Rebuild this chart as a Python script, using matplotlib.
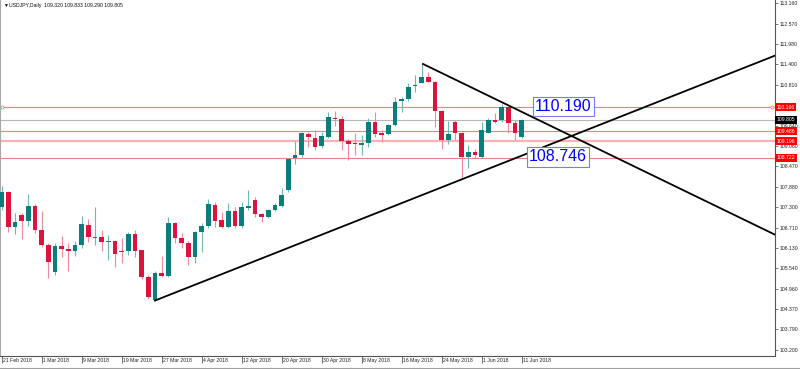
import numpy as np
import pandas as pd
import matplotlib
matplotlib.use("Agg")
import matplotlib.pyplot as plt

plt.rcParams['font.family'] = ['Liberation Sans', 'DejaVu Sans']

# USDJPY daily bars
dates = pd.bdate_range("2018-02-21", "2018-06-11")
opens = [107.31, 107.74, 106.74, 107.07, 106.91, 107.33, 106.64, 106.21, 105.45, 106.18,
         106.10, 106.05, 106.21, 106.79, 106.42, 106.44, 106.29, 106.33, 106.05, 106.05,
         106.53, 106.07, 105.30, 104.64, 105.40, 105.32, 106.84, 106.41, 106.26, 105.88,
         106.59, 106.76, 107.36, 106.93, 106.74, 107.19, 106.76, 107.29, 107.51, 107.09,
         107.01, 107.22, 107.34, 107.79, 108.70, 108.80, 109.40, 109.28, 109.06, 109.32,
         109.87, 109.83, 109.21, 109.13, 109.09, 109.15, 109.75, 109.42, 109.40, 109.66,
         110.36, 110.40, 110.77, 110.87, 111.05, 110.90, 110.07, 109.23, 109.75, 109.42,
         108.74, 108.87, 108.75, 109.44, 109.80, 109.80, 110.17, 109.71, 109.320]
highs = [107.91, 107.76, 107.12, 107.14, 107.67, 107.39, 107.20, 106.28, 106.27, 106.47,
         106.26, 106.33, 107.05, 106.95, 107.31, 106.64, 106.50, 106.36, 106.41, 106.59,
         106.64, 106.07, 105.35, 105.48, 105.90, 107.01, 106.86, 106.55, 106.34, 106.62,
         106.85, 107.53, 107.46, 107.17, 107.41, 107.30, 107.46, 107.79, 107.60, 107.12,
         107.24, 107.41, 107.84, 108.70, 109.20, 109.47, 109.47, 109.51, 109.47, 110.04,
         110.06, 109.93, 109.25, 109.42, 109.37, 109.85, 110.04, 109.51, 109.69, 110.47,
         110.47, 110.87, 111.09, 111.41, 111.19, 110.92, 110.09, 109.77, 109.80, 109.47,
         109.08, 108.96, 109.75, 109.85, 109.99, 110.26, 110.18, 109.80, 109.833]
lows = [107.22, 106.59, 106.52, 106.38, 106.76, 106.57, 106.16, 105.26, 105.35, 105.88,
        105.47, 105.90, 106.12, 106.31, 106.21, 106.05, 105.78, 105.59, 105.69, 105.93,
        105.88, 105.24, 104.66, 104.62, 105.30, 105.30, 106.26, 106.12, 105.64, 105.69,
        106.02, 106.70, 106.74, 106.70, 106.70, 106.70, 106.70, 107.22, 107.03, 106.88,
        106.98, 107.19, 107.31, 107.74, 108.53, 108.75, 109.03, 108.94, 108.99, 109.28,
        109.63, 108.94, 108.65, 108.80, 108.80, 109.03, 109.32, 109.18, 109.37, 109.63,
        110.04, 110.36, 110.61, 110.86, 110.88, 109.59, 108.96, 109.10, 109.23, 108.13,
        108.42, 108.71, 108.70, 109.42, 109.71, 109.75, 109.42, 109.23, 109.290]
closes = [107.74, 106.74, 106.87, 106.91, 107.33, 106.64, 106.21, 105.73, 106.19, 106.10,
          106.05, 106.21, 106.81, 106.44, 106.45, 106.30, 106.33, 105.96, 106.02, 106.53,
          106.05, 105.29, 104.73, 105.40, 105.32, 106.84, 106.41, 106.26, 105.88, 106.59,
          106.76, 107.38, 106.91, 106.74, 107.19, 106.76, 107.30, 107.33, 107.10, 107.01,
          107.22, 107.36, 107.65, 108.67, 108.80, 109.42, 109.31, 109.04, 109.34, 109.88,
          109.83, 109.21, 109.11, 109.10, 109.13, 109.75, 109.40, 109.38, 109.66, 110.33,
          110.40, 110.76, 110.79, 111.05, 110.90, 110.07, 109.23, 109.39, 109.42, 108.74,
          108.89, 108.81, 109.51, 109.80, 109.75, 110.17, 109.71, 109.42, 109.805]

level_lines = [110.166, 109.486, 109.196, 108.722]
bid_price = 109.805
y_ticks = [113.160, 112.570, 111.980, 111.400, 110.810, 110.220, 109.640, 109.060,
           108.470, 107.880, 107.300, 106.710, 106.130, 105.540, 104.960, 104.370,
           103.790, 103.200]
# trend lines as (bar, price) anchor pairs
support_bars, support_prices = [23, 116], [104.62, 111.65]
resist_bars, resist_prices = [63.2, 116], [111.41, 106.51]
label_prices = [110.190, 108.746]

UP, DOWN = "#0a7e7a", "#dc143c"
UP_W, DOWN_W = "#6fb8b4", "#ef8a9c"

fig = plt.figure(figsize=(8, 3.69), dpi=100)
ax = fig.add_axes([0, 13 / 369, 775 / 800, 356 / 369])

x = np.arange(len(dates))
o, h, l, c = map(np.array, (opens, highs, lows, closes))
up = c >= o
body_lo = np.minimum(o, c)
body_h = np.maximum(np.abs(c - o), 0.03)

# horizontal levels
for v in level_lines:
    if v == 109.196:
        ax.axhline(v, color="#f7b3b3", lw=1.6, zorder=1)
    else:
        ax.axhline(v, color="#f07f7f", lw=0.8, zorder=1)
ax.axhline(bid_price, color="#b8b8b8", lw=0.8, zorder=1)
ax.plot([0, 115.5], [level_lines[0]] * 2, ls="none", marker="o", ms=2.2,
        mfc="white", mec="#f07f7f", mew=0.6, zorder=1)

# candles
ax.vlines(x[up], l[up], h[up], color=UP_W, lw=0.8, zorder=2)
ax.vlines(x[~up], l[~up], h[~up], color=DOWN_W, lw=0.8, zorder=2)
ax.bar(x[up], body_h[up], bottom=body_lo[up], width=0.7, color=UP, lw=0, zorder=3)
ax.bar(x[~up], body_h[~up], bottom=body_lo[~up], width=0.7, color=DOWN, lw=0, zorder=3)

# trend lines
ax.plot(support_bars, support_prices, color="black", lw=1.3, zorder=4)
ax.plot(resist_bars, resist_prices, color="black", lw=1.3, zorder=4)

# text labels on the chart
for xb, v in zip([80.0, 79.1], label_prices):
    ax.text(xb, v, f"{v:.3f}", fontsize=11.5, color="#0000ff", ha="left", va="center",
            bbox=dict(boxstyle="square,pad=0.15", fc="white", ec="#7a7aff", lw=0.8),
            zorder=6)

ax.set_xlim(-0.255, 116.0)
ax.set_ylim(103.028, 113.246)

# price scale on the right; labels hidden under a price box are left blank
boxed = level_lines + [bid_price]
ax.yaxis.tick_right()
ax.set_yticks(y_ticks)
ax.set_yticklabels(["" if min(abs(t - b) for b in boxed) < 0.08 else f"{t:.3f}"
                    for t in y_ticks])
ax.tick_params(axis="y", length=2.5, width=0.6, pad=1.2, labelsize=3.7,
               color="#666666", labelcolor="#222222")

for v in level_lines:
    ax.annotate(f"{v:.3f}", xy=(1, v), xycoords=ax.get_yaxis_transform(),
                xytext=(1.0, 0), textcoords="offset points", ha="left", va="center",
                fontsize=3.7, color="white", annotation_clip=False, zorder=10,
                bbox=dict(boxstyle="square,pad=0.3", fc="#ff0000", ec="none"))
ax.annotate(f"{bid_price:.3f}", xy=(1, bid_price), xycoords=ax.get_yaxis_transform(),
            xytext=(1.0, 0), textcoords="offset points", ha="left", va="center",
            fontsize=3.7, color="white", annotation_clip=False, zorder=10,
            bbox=dict(boxstyle="square,pad=0.3", fc="black", ec="none"))

# time scale
tick_idx = x[::6]
ax.set_xticks(tick_idx)
ax.tick_params(axis="x", length=5, width=0.6, color="#555555", labelbottom=False)
for i in tick_idx:
    d = dates[i]
    ax.annotate(f"{d.day} {d:%b %Y}", xy=(i, 0), xycoords=ax.get_xaxis_transform(),
                xytext=(1.0, -1.5), textcoords="offset points", ha="left", va="top",
                fontsize=3.7, color="#222222", annotation_clip=False)

ax.spines["top"].set_visible(False)
ax.spines["left"].set_color("#a8a8a8")
ax.spines["right"].set_color("#555555")
ax.spines["bottom"].set_color("#555555")
for s in ("left", "right", "bottom"):
    ax.spines[s].set_linewidth(0.8)

fig.text(3 / 800, 1 - 5 / 369, "\u25bc", fontsize=3.5, va="center", ha="left")
fig.text(9 / 800, 1 - 5 / 369,
         f"USDJPY,Daily  {opens[-1]:.3f} {highs[-1]:.3f} {lows[-1]:.3f} {closes[-1]:.3f}",
         fontsize=3.7, va="center", ha="left", color="#111111")
fig.add_artist(plt.Line2D([0, 1], [0.004, 0.004], transform=fig.transFigure,
                          color="#a0a0a0", lw=0.8))

fig.savefig("out.png", dpi=100)
